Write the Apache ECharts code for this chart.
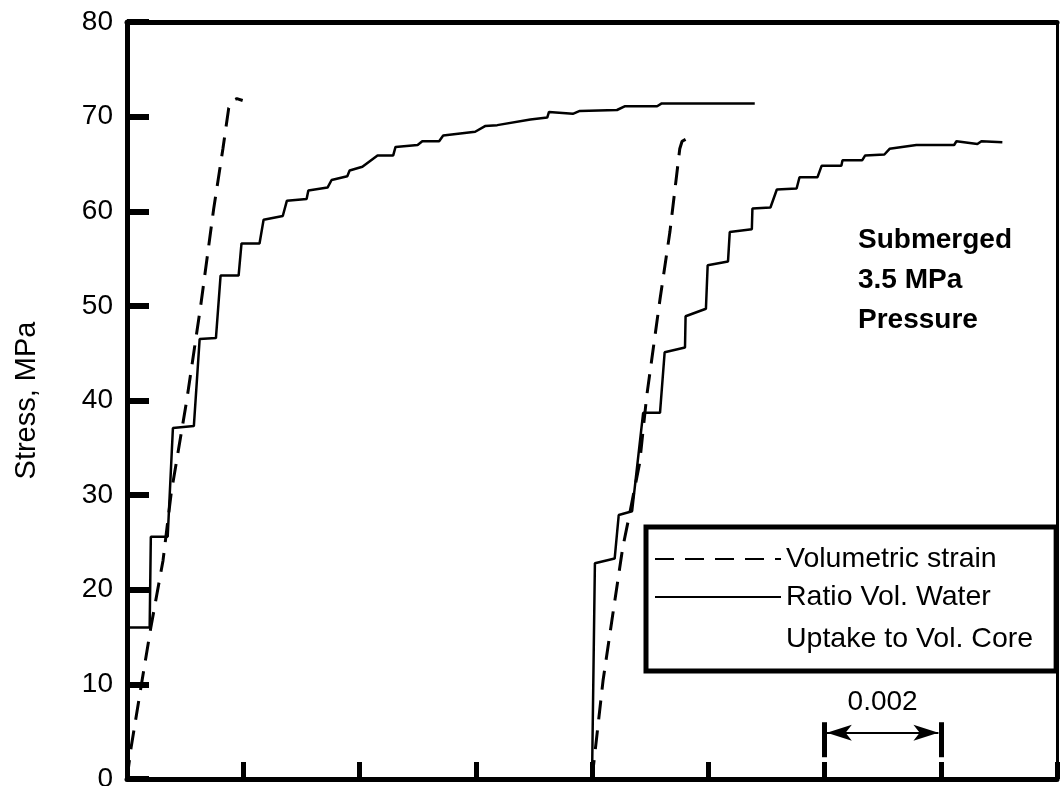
<!DOCTYPE html>
<html>
<head>
<meta charset="utf-8">
<script src="https://cdn.jsdelivr.net/npm/echarts@6/dist/echarts.min.js"></script>
<style>
html,body{margin:0;padding:0;background:#fff;}
#chart{width:1061px;height:786px;}
</style>
</head>
<body>
<div id="chart"></div>
<script>
// ---- data (strain, stress MPa) ----
const yTicks = [0, 10, 20, 30, 40, 50, 60, 70, 80];
const strainScaleLabel = '0.002';
const annotationLines = ['Submerged', '3.5 MPa', 'Pressure'];
const legendNames = ['Volumetric strain', 'Ratio Vol. Water\nUptake to Vol. Core'];

const volStrainA = [
  [0,0],[0.00007,3.3],[0.00024,9.7],[0.00041,16.0],[0.00062,23.1],[0.00076,30.2],
  [0.00103,40.1],[0.00127,50.1],[0.00149,60.2],[0.00165,66.6],[0.00175,70.9],
  [0.00182,71.7],[0.00189,71.9],[0.00199,71.7]
];
const waterUptakeA = [
  [0,0],[0.00002,16.0],[0.00039,16.0],[0.00041,25.6],[0.00070,25.6],[0.00079,37.1],
  [0.00115,37.3],[0.00125,46.5],[0.00153,46.6],[0.00161,53.2],[0.00192,53.2],
  [0.00197,56.6],[0.00228,56.6],[0.00235,59.1],[0.00268,59.5],[0.00275,61.1],
  [0.00309,61.3],[0.00312,62.2],[0.00345,62.5],[0.00352,63.3],[0.00379,63.7],
  [0.00383,64.3],[0.00405,64.7],[0.00431,65.9],[0.00458,65.9],[0.00462,66.8],
  [0.00500,67.0],[0.00508,67.4],[0.00537,67.4],[0.00544,68.0],[0.00599,68.4],
  [0.00616,69.0],[0.00637,69.1],[0.00694,69.7],[0.00723,69.9],[0.00726,70.5],
  [0.00767,70.3],[0.00779,70.6],[0.00843,70.7],[0.00857,71.1],[0.00912,71.1],
  [0.00920,71.4],[0.01080,71.4]
];
const volStrainB = [
  [0.00800,0],[0.00819,10.4],[0.00836,17.5],[0.00853,24.5],[0.00865,28.1],
  [0.00882,33.4],[0.00894,40.4],[0.00917,50.7],[0.00934,57.8],[0.00951,66.6],
  [0.00955,67.4],[0.00961,67.6]
];
const waterUptakeB = [
  [0.00800,0],[0.00805,22.8],[0.00839,23.3],[0.00846,27.9],[0.00869,28.3],
  [0.00888,38.7],[0.00917,38.7],[0.00925,45.1],[0.00960,45.6],[0.00961,48.9],
  [0.00996,49.7],[0.00999,54.3],[0.01034,54.7],[0.01037,57.8],[0.01075,58.1],
  [0.01076,60.3],[0.01107,60.4],[0.01118,62.3],[0.01152,62.4],[0.01157,63.6],
  [0.01188,63.6],[0.01195,64.8],[0.01229,64.8],[0.01231,65.4],[0.01265,65.4],
  [0.01270,65.9],[0.01303,66.0],[0.01312,66.6],[0.01358,67.0],[0.01423,67.0],
  [0.01427,67.4],[0.01463,67.1],[0.01470,67.4],[0.01506,67.3]
];
// scale bar (strain units)
const scaleBarX = [0.012, 0.014];
const scaleBarY = [2.3, 6.0];
const scaleArrowY = 4.9;
const scaleArrowInset = 0.00004;

const FONT = 'Liberation Sans';
const chart = echarts.init(document.getElementById('chart'), null, {renderer: 'canvas'});

const dashStyle = {color: '#000', width: 3, type: [19, 11]};
const solidStyle = {color: '#000', width: 2.5, type: 'solid'};

const option = {
  backgroundColor: '#fff',
  animation: false,
  textStyle: {fontFamily: FONT, color: '#000'},
  grid: {left: 127, right: 4, top: 22, bottom: 7, containLabel: false, outerBoundsMode: 'none'},
  xAxis: [
    {type: 'value', min: 0, max: 0.016, interval: 0.002, position: 'bottom',
     axisLine: {onZero: false, lineStyle: {color: '#000', width: 5}},
     axisTick: {inside: true, length: 17, lineStyle: {color: '#000', width: 5}},
     axisLabel: {show: false}, splitLine: {show: false}},
    {type: 'value', min: 0, max: 0.016, position: 'top',
     axisLine: {onZero: false, lineStyle: {color: '#000', width: 5}},
     axisTick: {show: false}, axisLabel: {show: false}, splitLine: {show: false}}
  ],
  yAxis: [
    {type: 'value', min: yTicks[0], max: yTicks[yTicks.length - 1], interval: 10, position: 'left',
     name: 'Stress, MPa', nameLocation: 'middle', nameGap: 86,
     nameTextStyle: {fontSize: 29, color: '#000', fontFamily: FONT},
     axisLine: {onZero: false, lineStyle: {color: '#000', width: 5}},
     axisTick: {inside: true, length: 22, lineStyle: {color: '#000', width: 6}},
     axisLabel: {fontSize: 28, color: '#000', margin: 14, fontFamily: FONT},
     splitLine: {show: false}},
    {type: 'value', min: 0, max: 80, position: 'right',
     axisLine: {show: true, onZero: false, lineStyle: {color: '#000', width: 3}},
     axisTick: {show: false}, axisLabel: {show: false}, splitLine: {show: false}}
  ],
  legend: {
    data: [legendNames[0], legendNames[1]],
    orient: 'vertical', left: 646, top: 527,
    padding: [7, 23, 11, 8],
    itemGap: -46, itemWidth: 126, itemHeight: 14,
    selectedMode: false,
    itemStyle: {opacity: 0},
    formatter: function (name) { return name.indexOf('\n') >= 0 ? ' \n' + name : name; },
    borderColor: '#000', borderWidth: 5, backgroundColor: '#fff',
    textStyle: {fontSize: 28.5, color: '#000', fontFamily: FONT, lineHeight: 42}
  },
  graphic: [
    {type: 'text', left: 858, top: 220, z: 10,
     style: {text: annotationLines.join('\n'), font: 'bold 28px "Liberation Sans"',
             lineHeight: 40, fill: '#000'}}
  ],
  series: [
    {name: legendNames[0], type: 'line', data: volStrainA, symbol: 'none', showSymbol: false,
     lineStyle: dashStyle, itemStyle: {color: '#000'}},
    {name: legendNames[1], type: 'line', data: waterUptakeA, symbol: 'none', showSymbol: false,
     lineStyle: solidStyle, itemStyle: {color: '#000'}},
    {name: legendNames[0], type: 'line', data: volStrainB, symbol: 'none', showSymbol: false,
     lineStyle: dashStyle, itemStyle: {color: '#000'}},
    {name: legendNames[1], type: 'line', data: waterUptakeB, symbol: 'none', showSymbol: false,
     lineStyle: solidStyle, itemStyle: {color: '#000'},
     markLine: {
       silent: true, animation: false, symbol: ['none', 'none'],
       lineStyle: {color: '#000', width: 5, type: 'solid'},
       label: {show: false},
       data: [
         [{coord: [scaleBarX[0], scaleBarY[0]]}, {coord: [scaleBarX[0], scaleBarY[1]]}],
         [{coord: [scaleBarX[1], scaleBarY[0]]}, {coord: [scaleBarX[1], scaleBarY[1]]}],
         [{coord: [scaleBarX[0] + scaleArrowInset, scaleArrowY], symbol: 'arrow', symbolSize: [12, 25],
           lineStyle: {width: 2, color: '#000', type: 'solid'},
           label: {show: true, position: 'middle', formatter: strainScaleLabel, fontSize: 28,
                   color: '#000', fontFamily: FONT, distance: 16}},
          {coord: [scaleBarX[1] - scaleArrowInset, scaleArrowY], symbol: 'arrow', symbolSize: [12, 25]}]
       ]
     }}
  ]
};
chart.setOption(option);
</script>
</body>
</html>
